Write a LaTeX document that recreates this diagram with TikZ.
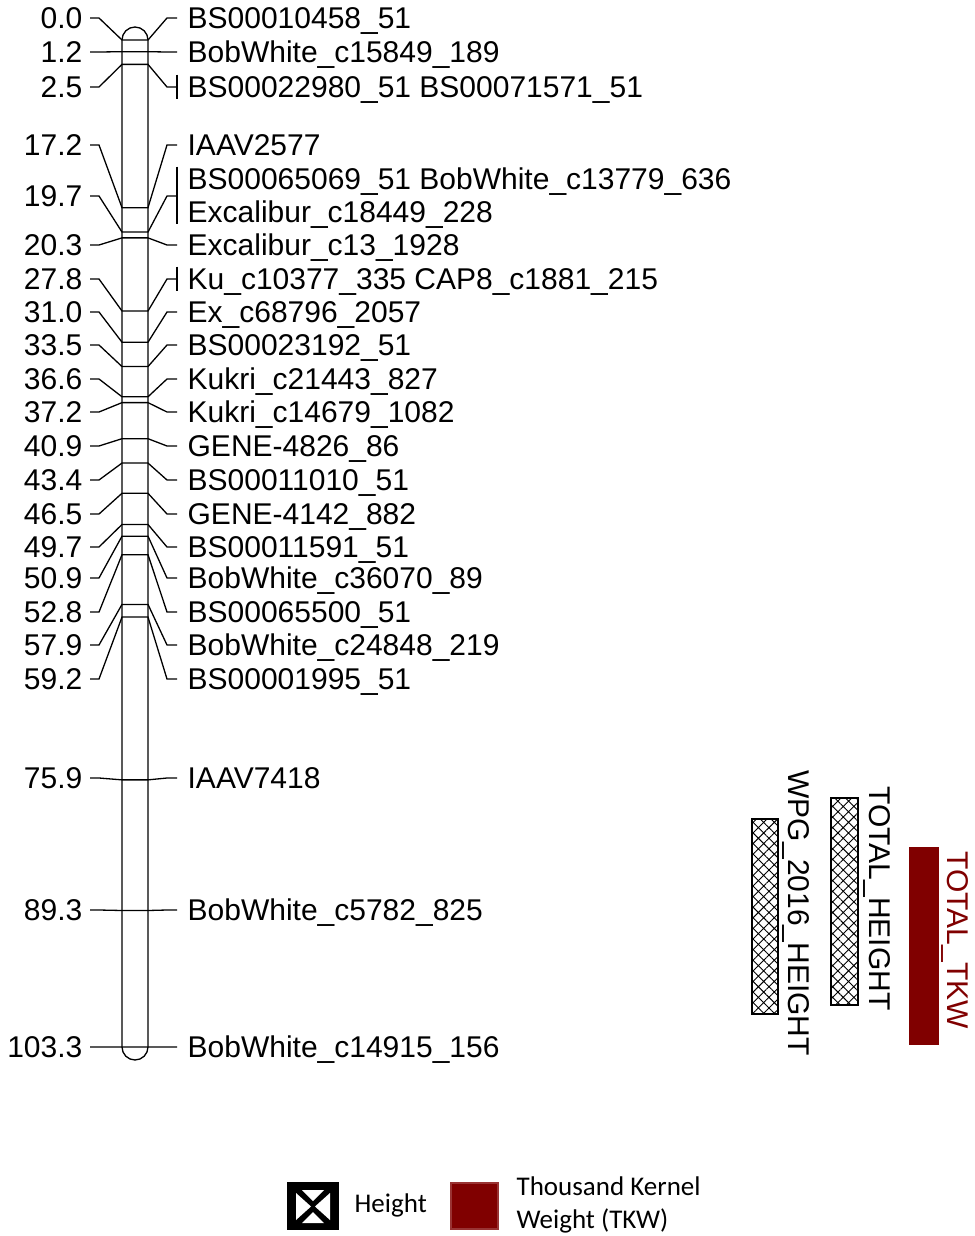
\documentclass[tikz,border=0pt]{standalone}
\usepackage{fontspec}
\setmainfont{Liberation Sans}
\newfontfamily\legendfont{Carlito}
\usepackage{tikz}
\usetikzlibrary{patterns.meta}
\definecolor{tkwred}{RGB}{128,0,0}

\begin{document}
\begin{tikzpicture}[
    x=1pt, y=-1pt,
    line width=1.3pt,
    poslabel/.style={
        anchor=east, inner xsep=7pt, inner ysep=1pt,
        text height=21.5pt, text depth=0pt,
        font=\fontsize{30}{33}\selectfont
    },
    mklabel/.style={
        anchor=west, inner xsep=10pt, inner ysep=1pt,
        text height=21.5pt, text depth=0pt,
        font=\fontsize{30}{33}\selectfont
    },
    qtlbox/.style={
        draw, line width=1.6pt,
        pattern={Hatch[angle=45,distance=7.5pt,line width=0.9pt]}
    },
    qtllabel/.style={
        rotate=-90, anchor=west, inner sep=0pt,
        text height=21.5pt, text depth=0pt,
        font=\fontsize{30}{33}\selectfont
    },
    legendtext/.style={
        anchor=west, inner sep=0pt,
        font=\legendfont\fontsize{27}{33}\selectfont
    }
]
\useasboundingbox (0,0) rectangle (974,1236);

% chromosome
\draw[rounded corners=13pt] (122,27) rectangle (148,1060);

% markers: index/position/label y/name
\foreach \i/\pos/\y/\txt in {
    1/0.0/18/BS00010458\_51,
    2/1.2/52/BobWhite\_c15849\_189,
    3/2.5/87/BS00022980\_51 BS00071571\_51,
    4/17.2/145/IAAV2577,
    5/19.7/196/{},
    6/20.3/245/Excalibur\_c13\_1928,
    7/27.8/279/Ku\_c10377\_335 CAP8\_c1881\_215,
    8/31.0/312/Ex\_c68796\_2057,
    9/33.5/345/BS00023192\_51,
    10/36.6/379/Kukri\_c21443\_827,
    11/37.2/412/Kukri\_c14679\_1082,
    12/40.9/446/GENE-4826\_86,
    13/43.4/480/BS00011010\_51,
    14/46.5/514/GENE-4142\_882,
    15/49.7/547/BS00011591\_51,
    16/50.9/578/BobWhite\_c36070\_89,
    17/52.8/612/BS00065500\_51,
    18/57.9/645/BobWhite\_c24848\_219,
    19/59.2/679/BS00001995\_51,
    20/75.9/778/IAAV7418,
    21/89.3/910/BobWhite\_c5782\_825,
    22/103.3/1047/BobWhite\_c14915\_156}{
    \pgfmathsetmacro{\b}{40+9.748*\pos}
    \coordinate (bl\i) at (122,\b);
    \coordinate (br\i) at (148,\b);
    \node[poslabel] (p\i) at (90,\y) {\pos};
    \ifnum\i=5
        \coordinate (m\i) at (177,\y);
    \else
        \node[mklabel] (m\i) at (177,\y) {\txt};
    \fi
    \draw (p\i.east) -- ++(9,0) -- (bl\i) -- (br\i) -- (167,\y) -- (m\i);
}

% grouped markers
\node[mklabel] (m5a) at (177,179) {BS00065069\_51 BobWhite\_c13779\_636};
\node[mklabel] (m5b) at (177,212) {Excalibur\_c18449\_228};
\draw (m5a.north west) -- (m5b.south west);
\draw (m3.north west) -- (m3.south west);
\draw (m7.north west) -- (m7.south west);

% QTL bars
\draw[qtlbox] (752,819) rectangle (778,1014);
\draw[qtlbox] (831,798) rectangle (858,1005);
\draw[fill=tkwred, draw=tkwred] (910,848) rectangle (938,1044);
\node[qtllabel] (wpglab) at (799,770) {WPG\_2016\_HEIGHT};
\node[qtllabel] (htlab) at (880,786) {TOTAL\_HEIGHT};
\node[qtllabel, text=tkwred] (tkwlab) at (958,851) {TOTAL\_TKW};

% legend
\fill (287,1182) rectangle (339,1230);
\fill[white] (296,1193) -- (296,1220) -- (311,1206.5) -- cycle;
\fill[white] (330,1193) -- (330,1220) -- (315,1206.5) -- cycle;
\fill[white] (302,1190) -- (324,1190) -- (313,1201) -- cycle;
\fill[white] (302,1223) -- (324,1223) -- (313,1212) -- cycle;
\node[legendtext] (hlab) at (354,1205) {Height};
\draw[fill=tkwred, draw=tkwred!80] (451,1183) rectangle (498,1229);
\node[legendtext, align=left] (tkwleg) at (516,1205)
    {Thousand Kernel\\Weight (TKW)};
\end{tikzpicture}
\end{document}
